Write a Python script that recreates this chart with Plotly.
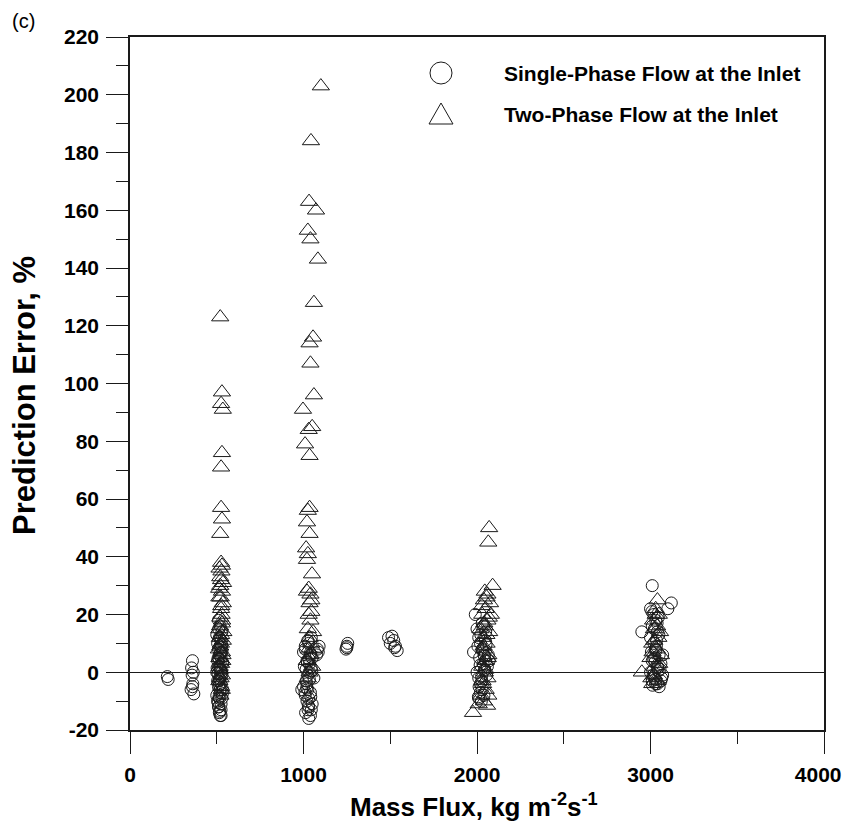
import plotly.graph_objects as go

# ---- Single-phase flow at the inlet (circles) ----
sp_G = [215, 220,
        360, 355, 365, 358, 362, 352, 368, 360,
        520, 515, 525, 510, 505, 530, 500, 520, 535, 510, 525, 505, 515, 530, 500, 520, 510, 535, 505, 525,
        515, 530, 510, 520, 505, 525, 515, 500, 530, 520, 510, 525, 515, 520, 512, 528, 518, 508, 522, 512, 525, 518,
        508, 532, 516, 524, 502, 514, 526, 519, 511, 533, 507, 521, 529, 513, 517, 523,
        1000, 1010, 1020, 1030, 1040, 1030, 1045, 1025, 1015, 1035, 1005, 1020, 1040, 1010, 1030, 1045, 1025, 1015,
        1035, 1050, 1000, 1020, 1040, 1030, 1050, 1010, 1025, 1060, 990, 1080, 1090, 1075, 1085,
        1012, 1028, 1042, 1018, 1034, 1048, 1022, 1038, 1008, 1044, 1026, 1032,
        1245, 1250, 1255, 1250,
        1490, 1510, 1520, 1500, 1530, 1540, 1525,
        1980, 1990, 2000, 2010, 2020, 2030, 2040, 2050, 2060, 2000, 2010, 2020, 2030, 2040, 2025, 2015, 2035, 2045,
        2055, 2005, 2065, 2070, 2050, 2030, 2020, 2010,
        2012, 2028, 2042, 2018, 2034, 2048, 2022, 2038, 2008, 2044, 2026, 2052,
        2950, 3010, 3000, 3020, 3030, 3010, 3040, 3000, 3020, 3030, 3050, 3010, 3040, 3000, 3020, 3030, 3050, 3060,
        3070, 3040, 3010, 3100, 3120, 3060, 3070, 3025, 3015, 3035, 3005, 3045, 3055, 3065,
        3012, 3028, 3042, 3018, 3034, 3048, 3022, 3038, 3008, 3044, 3026, 3032]
sp_E = [-1.5, -2.5,
        4, 1.5, 0, -1, -4, -6, -7.5, -5,
        -15, -14, -13, -12, -10, -9, -8, -7, -6, -5, -4, -3, -2, -1, 0, 1, 2, 3, 4, 5,
        6, 7, 8, 9, 10, 11, 12, 13, 14, 16, 18, -11, -9, -6, -3, 0, 2, 5, 7, -12, -15, -13.5,
        -10.5, -7.5, -4.5, -1.5, 1.5, 4.5, 8.5, 11.5, 15, 3.5, -0.5, 6.5, 9.5, -8.5, -2.5, 0.5,
        -5, -8, -10, -12, -15, -16, -13, -6, -3, 0, 2, 4, 6, 8, 10, 12, -1, 1,
        3, 5, 7, -4, -7, -9, -11, 9, 11, -2, -6, 8, 9, 6, 7,
        -14, -11.5, -8.5, -5.5, -2.5, 0.5, 3.5, 6.5, -7, 1.5, -13, 4.5,
        8, 9, 10, 8.5,
        12, 12.5, 11, 10, 9, 7.5, 8.5,
        7, 20, 15, 12, 10, 8, 6, 4, 2, 0, -2, -4, -6, -8, -10, 5, 3, 1,
        -1, 9, 6, 4, 14, 17, -7, -9,
        -5, -3, 0.5, 2.5, 7.5, 11, 13, 16, -8.5, 5.5, -1.5, 9.5,
        14, 30, 22, 20, 18, 16, 14, 12, 10, 8, 6, 4, 2, 0, -2, -4, -5, -3,
        -1, -4, -3, 22, 24, 3, 6, 5, -1, 11, 7, 19, 1, -2,
        -4.5, -2.5, 1.5, 4.5, 9, 13, 15, 17, 21, 0.5, 3.5, 7.5]

# ---- Two-phase flow at the inlet (triangles) ----
tp_G = [520, 530, 525, 535, 530, 525, 525, 530, 520, 525, 530, 520, 525, 530, 515, 535, 525, 520, 530, 515,
        525, 535, 520, 530, 515, 525, 520, 530, 515, 525, 520, 528, 518, 532, 522, 512, 538, 523, 516, 527,
        521, 529, 517, 533, 524, 519, 531, 526, 514, 536,
        1100, 1043, 1032, 1072, 1025, 1040, 1083, 1060, 1055, 1035, 1040, 1060, 997, 1050, 1030, 1009, 1035,
        1035, 1025, 1020, 1035, 1015, 1025, 1020, 1049, 1030, 1040, 1045, 1035, 1030, 1040, 1025, 1035, 1045,
        1030, 1040, 1020, 1050, 1035, 1025, 1045, 1020, 1055, 1060,
        2070, 2065, 2090, 2060, 2040, 2075, 2050, 2030, 2060, 2045, 2070, 2035, 2055, 2040, 2065, 2050, 2030,
        2045, 2060, 2035, 2050, 2065, 2040, 1977, 2010, 2025, 2058, 2020, 2080, 2055, 2045,
        2032, 2048, 2062, 2038, 2054, 2042, 2068, 2028,
        2950, 3000, 3010, 3020, 3030, 3040, 3005, 3025, 3035, 3045, 3015, 3050, 3060, 3020, 3040, 3030, 3055, 3010,
        3022, 3038, 3012, 3048]
tp_E = [123, 97, 93, 91, 76, 71, 57, 53, 48, 38, 37, 33, 32, 28, 26, 24, 22, 19, 17, 15,
        13, 11, 9, 7, 5, 3, 1, -1, -3, -5, 30, 20, 12, 4, -2, 8, 14, 26, 36, 35,
        -8, -6, 2, 6, 10, 16, 18, 23, 29, 31,
        203, 184, 163, 160, 153, 150, 143, 128, 116, 114, 107, 96, 91, 85, 84, 79, 75,
        57, 56, 52, 48, 43, 41, 39, 34, 29, 27, 25, 24, 20, 18, 15, 12, 10,
        8, 6, 4, 2, 0, -2, 21, 28, 14, 8,
        50, 45, 30, 27, 25, 24, 22, 20, 18, 16, 14, 12, 10, 8, 6, 4, 2,
        0, -2, -4, -6, -8, -10, -14, -11, -8, -11.5, 15, 20, 26, 28,
        -3, 1, 5, 9, 13, 17, 19, 23,
        0, 5, 10, 15, 20, 25, -2, 2, 8, 12, 18, 3, 6, -1, -3, 22, 14, -4,
        11, 16, 7, 20]

x_ticks = [0, 1000, 2000, 3000, 4000]
y_ticks = list(range(-20, 221, 20))

legend_labels = ["Single-Phase Flow at the Inlet", "Two-Phase Flow at the Inlet"]
x_title = "Mass Flux, kg m<sup>-2</sup>s<sup>-1</sup>"
y_title = "Prediction Error, %"
panel_label = "(c)"

SANS = "Liberation Sans, Arial, Helvetica, sans-serif"
INK = "#1a1a1a"

# plot-area edges in window pixels (page has an 8px body margin)
PL, PR, PT, PB = 130, 824, 37, 730
OFF = 8
W, H = 843, 813

fig = go.Figure()
fig.add_trace(go.Scatter(x=sp_G, y=sp_E, mode="markers", name=legend_labels[0],
                         marker=dict(symbol="circle-open", size=12, color=INK, line=dict(width=1, color=INK))))
fig.add_trace(go.Scatter(x=tp_G, y=tp_E, mode="markers", name=legend_labels[1],
                         marker=dict(symbol="triangle-up-open", size=15, color=INK, line=dict(width=1, color=INK))))

axis_common = dict(showgrid=False, showline=True, linecolor=INK, linewidth=1.5, mirror=True,
                   ticks="outside", tickcolor=INK, tickwidth=1.2, ticklen=22, ticklabeloverflow="allow",
                   tickfont=dict(family=SANS, size=21, color="#000", weight="bold"))

# last x label padded on the right so it stays inside the page edge
x_ticktext = [str(v) for v in x_ticks]
x_ticktext[-1] = x_ticktext[-1] + "\u00a0\u00a0"

fig.update_xaxes(range=[0, 4000], tickmode="array", tickvals=x_ticks, ticktext=x_ticktext,
                 minor=dict(dtick=500, tick0=0, ticks="outside", ticklen=12, tickcolor=INK, tickwidth=1.2),
                 zeroline=False, ticklabelstandoff=3, **axis_common)
fig.update_yaxes(range=[-20, 220], tickmode="array", tickvals=y_ticks, ticktext=[str(v) for v in y_ticks],
                 minor=dict(dtick=10, tick0=0, ticks="outside", ticklen=12, tickcolor=INK, tickwidth=1.2),
                 zeroline=True, zerolinecolor=INK, zerolinewidth=1, ticklabelstandoff=3, **axis_common)


def px2paper_x(px):
    return (px - PL) / (PR - PL)


def px2paper_y(py):
    return (PB - py) / (PB - PT)


# legend drawn as decoration in paper coordinates
shapes = []
cx, cy = 441, 73
shapes.append(dict(type="circle", xref="paper", yref="paper",
                   x0=px2paper_x(cx - 11), x1=px2paper_x(cx + 11),
                   y0=px2paper_y(cy + 11), y1=px2paper_y(cy - 11),
                   line=dict(color=INK, width=1)))
tx, ty = 441, 115
path = "M {} {} L {} {} L {} {} Z".format(
    px2paper_x(tx - 12), px2paper_y(ty + 9),
    px2paper_x(tx + 12), px2paper_y(ty + 9),
    px2paper_x(tx), px2paper_y(ty - 12))
shapes.append(dict(type="path", xref="paper", yref="paper", path=path, line=dict(color=INK, width=1)))

annotations = []
for lab, yy in zip(legend_labels, [73, 115]):
    annotations.append(dict(text=lab, xref="paper", yref="paper", x=px2paper_x(502), y=px2paper_y(yy),
                            xanchor="left", yanchor="middle", showarrow=False,
                            font=dict(family=SANS, size=21, color="#000", weight="bold")))
annotations.append(dict(text=panel_label, xref="paper", yref="paper", x=px2paper_x(10), y=px2paper_y(21),
                        xanchor="left", yanchor="middle", showarrow=False,
                        font=dict(family=SANS, size=20, color="#000")))
annotations.append(dict(text=x_title, xref="paper", yref="paper", x=px2paper_x(474), y=px2paper_y(806),
                        xanchor="center", yanchor="middle", showarrow=False,
                        font=dict(family=SANS, size=26, color="#000", weight="bold")))
annotations.append(dict(text=y_title, xref="paper", yref="paper", x=px2paper_x(24), y=px2paper_y(396),
                        xanchor="center", yanchor="middle", showarrow=False, textangle=-90,
                        font=dict(family=SANS, size=31, color="#000", weight="bold")))

fig.update_layout(width=W, height=H,
                  margin=dict(l=PL - OFF, r=W - (PR - OFF), t=PT - OFF, b=H - (PB - OFF), autoexpand=False),
                  paper_bgcolor="white", plot_bgcolor="white", showlegend=False,
                  shapes=shapes, annotations=annotations)

fig.write_html("out.html")
